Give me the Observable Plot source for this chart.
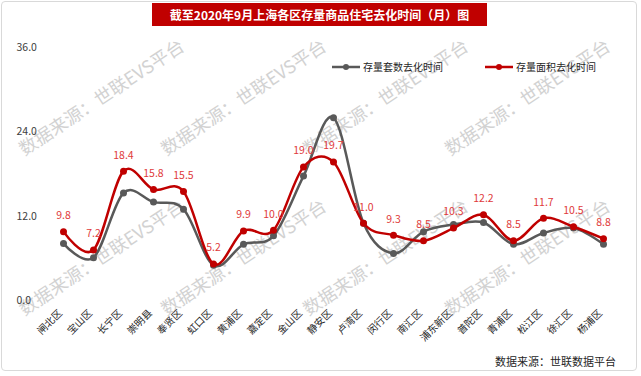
<!DOCTYPE html>
<html>
<head>
<meta charset="utf-8">
<script src="https://cdn.jsdelivr.net/npm/d3@7"></script>
<script src="https://cdn.jsdelivr.net/npm/@observablehq/plot@0.6"></script>
<style>
  html, body { margin: 0; padding: 0; background: #fff; }
  #wrap { position: relative; width: 641px; height: 376px; overflow: hidden; background: #fff;
          font-family: "Noto Sans CJK SC", "Noto Sans", sans-serif; }
  #frame { position: absolute; left: 1px; top: 1px; width: 636px; height: 370px;
           border: 1px solid #d9d9d9; border-radius: 4px; box-sizing: border-box; }
  #title { position: absolute; left: 152px; top: 3px; width: 335px; height: 23px; background: #c00000;
           color: #fff; font-weight: bold; font-size: 12px; line-height: 23px; text-align: center; }
  .wm { position: absolute; font-size: 18px; line-height: 18px; color: #d2d2d2; white-space: nowrap;
        transform-origin: 0 100%; transform: rotate(-33.5deg); }
  #chart { position: absolute; left: 0; top: 0; }
  #legend { position: absolute; top: 59px; left: 332px; font-size: 10px; color: #262626; display: flex; }
  #legend .item { display: flex; align-items: center; white-space: nowrap; }
  #legend svg { margin-right: 3px; }
  #caption { position: absolute; left: 495px; top: 353px; font-size: 11px; color: #262626; white-space: nowrap; }
</style>
</head>
<body>
<div id="wrap">
  <div id="frame"></div>
  <div id="wms"></div>
  <div id="chart"></div>
  <div id="title"></div>
  <div id="legend"></div>
  <div id="caption"></div>
</div>
<script>
const titleText = "截至2020年9月上海各区存量商品住宅去化时间（月）图";
const captionText = "数据来源：世联数据平台";
const watermarkText = "数据来源：世联EVS平台";
const categories = ["闸北区","宝山区","长宁区","崇明县","奉贤区","虹口区","黄浦区","嘉定区","金山区","静安区","卢湾区","闵行区","南汇区","浦东新区","普陀区","青浦区","松江区","徐汇区","杨浦区"];
const seriesNames = ["存量套数去化时间","存量面积去化时间"];
const unitsMonths = [8.1,6.1,15.3,14.0,13.0,5.0,8.0,9.2,17.7,26.0,11.0,6.7,9.8,10.8,11.1,8.0,9.6,10.3,8.0];
const areaMonths  = [9.8,7.2,18.4,15.8,15.5,5.2,9.9,10.0,19.0,19.7,11.0,9.3,8.5,10.3,12.2,8.5,11.7,10.5,8.8];
const yTicks = [0, 12, 24, 36];

const grayC = "#595959", redC = "#c00000", labelC = "#e03a3a";

document.getElementById("title").textContent = titleText;
document.getElementById("caption").textContent = captionText;

// watermarks
const wms = document.getElementById("wms");
const wmCols = [25, 167, 309, 451], wmRows = [157, 317];
for (const r of wmRows) for (const c of wmCols) {
  const s = document.createElement("span");
  s.className = "wm"; s.textContent = watermarkText;
  s.style.left = c + "px"; s.style.top = (r - 18) + "px";
  wms.appendChild(s);
}

// legend
const legend = document.getElementById("legend");
[[seriesNames[0], grayC, 0], [seriesNames[1], redC, 42]].forEach(([name, col, gap]) => {
  const it = document.createElement("div");
  it.className = "item"; it.style.marginLeft = gap + "px";
  it.innerHTML = `<svg width="28" height="10"><line x1="0" y1="5" x2="28" y2="5" stroke="${col}" stroke-width="2.5"/><circle cx="14" cy="5" r="3" fill="${col}"/></svg><span>${name}</span>`;
  legend.appendChild(it);
});

const data = categories.map((c, i) => ({cat: c, units: unitsMonths[i], area: areaMonths[i]}));

const chart = Plot.plot({
  width: 641, height: 376,
  marginTop: 47, marginBottom: 76, marginLeft: 44, marginRight: 19,
  style: {fontFamily: '"Noto Sans CJK SC", "Noto Sans", sans-serif', fontSize: "10px", background: "transparent", overflow: "visible"},
  x: {type: "point", domain: categories, padding: 0.5},
  y: {domain: [0, 36]},
  marks: [
    Plot.axisY({ticks: yTicks, tickFormat: d => d.toFixed(1), tickSize: 0, tickPadding: 28, textAnchor: "start", fontSize: 10.5, fill: "#404040", label: null}),
    Plot.axisX({tickSize: 0, tickRotate: -45, tickPadding: 11, dx: -3, fontSize: 10, fill: "#262626", label: null}),
    Plot.lineY(data, {x: "cat", y: "units", stroke: grayC, strokeWidth: 2.5, curve: "cardinal"}),
    Plot.dot(data, {x: "cat", y: "units", r: 3.5, fill: grayC}),
    Plot.lineY(data, {x: "cat", y: "area", stroke: redC, strokeWidth: 2.5, curve: "cardinal"}),
    Plot.dot(data, {x: "cat", y: "area", r: 3.5, fill: redC}),
    Plot.text(data, {x: "cat", y: "area", text: d => d.area.toFixed(1), dy: -16, fill: labelC, fontSize: 10.5})
  ]
});
document.getElementById("chart").appendChild(chart);
</script>
</body>
</html>
